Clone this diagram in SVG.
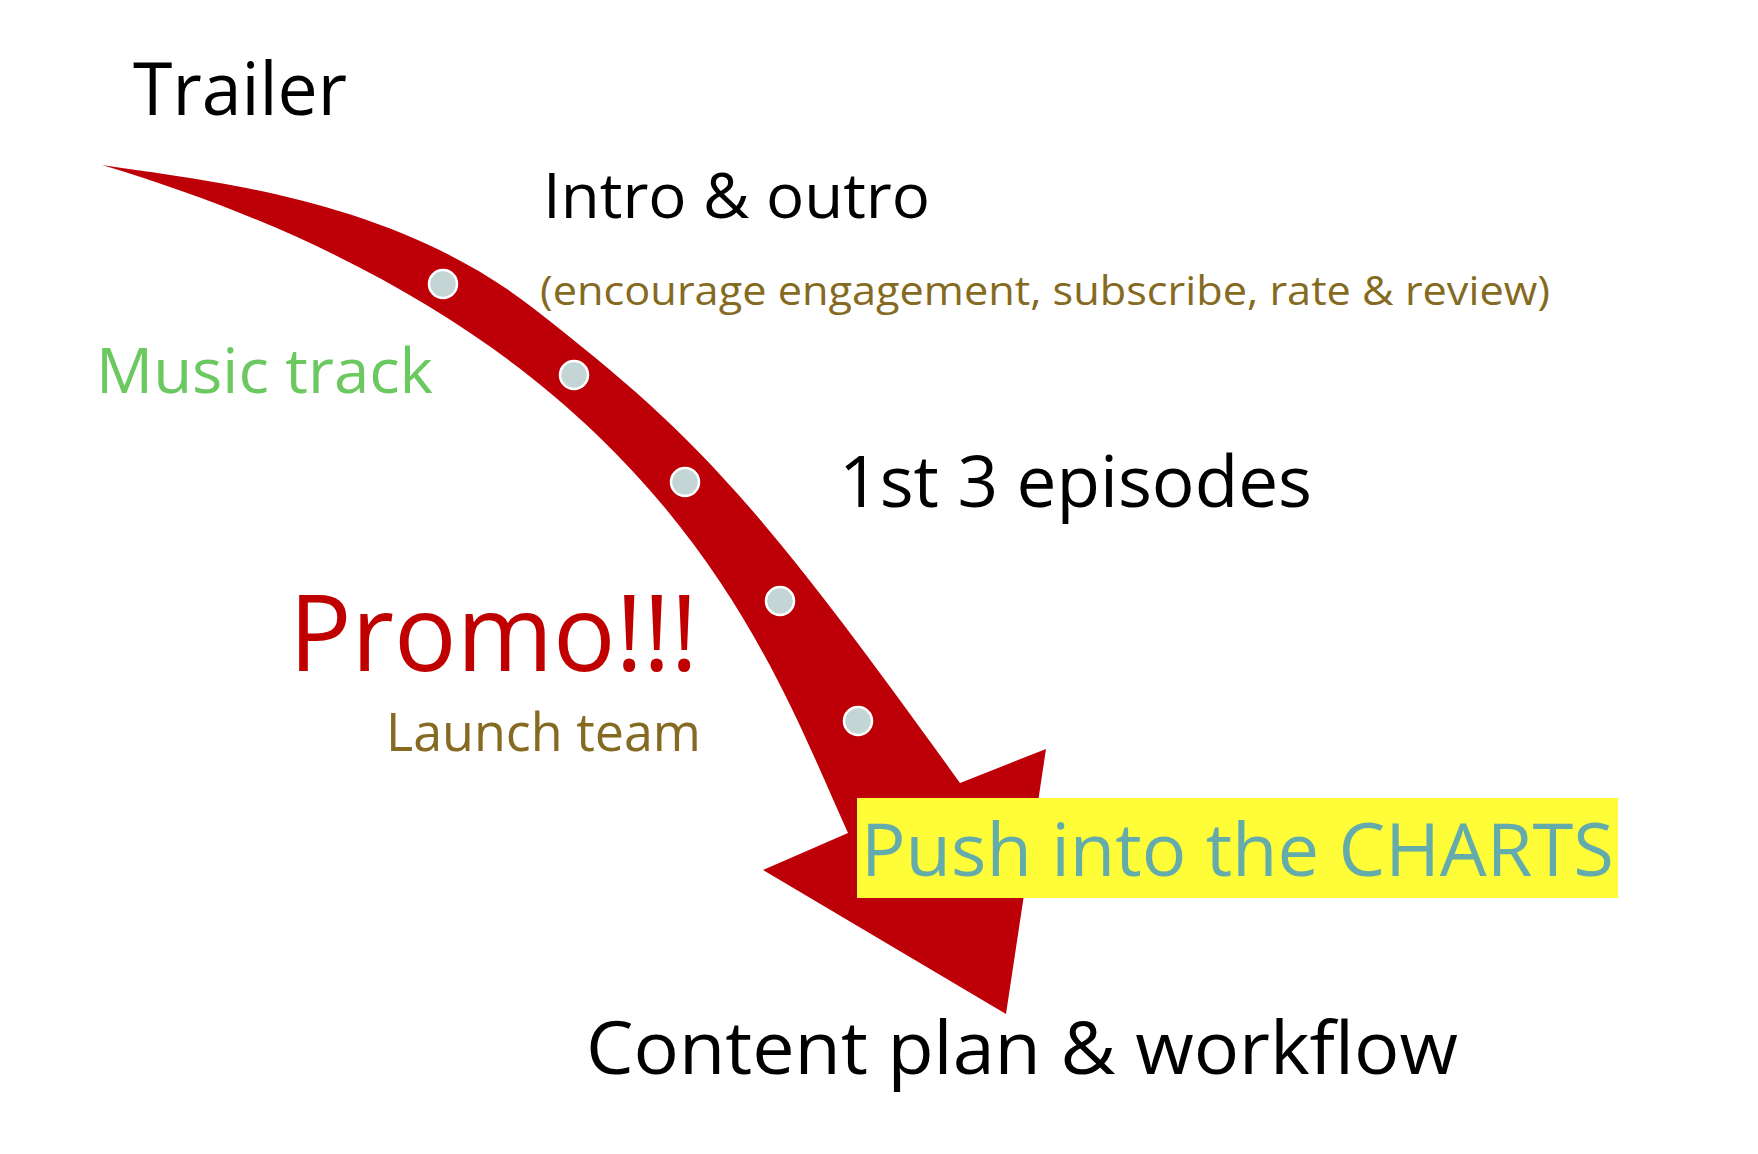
<svg xmlns="http://www.w3.org/2000/svg" width="1758" height="1154" viewBox="0 0 1758 1154">
  <style>
    text { font-family: "Open Sans", "Noto Sans", "Liberation Sans", sans-serif; }
    .blk { fill: #000000; }
    .olive { fill: #856a22; }
    .green { fill: #6cc860; }
    .red { fill: #c00000; }
    .teal { fill: #64abab; }
    .dot { fill: #c4d5d5; stroke: #ffffff; stroke-width: 2.5; }
    .arrow { fill: #bd0007; }
  </style>
  <rect width="1758" height="1154" fill="#ffffff"/>

  <g id="connectors">
    <path class="arrow" d="M102,165
      C212,181.5 393,198.8 533,308
      C690.6,431 751,491.4 960,783
      L1046,749 L1006,1014 L763,870 L848,833
      C768,657 662,333 102,165 Z"/>
    <circle class="dot" cx="443" cy="284" r="14"/>
    <circle class="dot" cx="574" cy="375" r="14"/>
    <circle class="dot" cx="685" cy="482" r="14"/>
    <circle class="dot" cx="780" cy="601" r="14"/>
    <circle class="dot" cx="858" cy="721" r="14"/>
  </g>

  <g id="trailer"><text class="blk" x="133" y="115" font-size="73" textLength="214" lengthAdjust="spacingAndGlyphs">Trailer</text></g>
  <g id="intro-outro"><text class="blk" x="543" y="218" font-size="62" textLength="387" lengthAdjust="spacingAndGlyphs">Intro &amp; outro</text></g>
  <g id="engagement"><text class="olive" x="540" y="305" font-size="41" textLength="1010" lengthAdjust="spacingAndGlyphs">(encourage engagement, subscribe, rate &amp; review)</text></g>
  <g id="music-track"><text class="green" x="96" y="393" font-size="63" textLength="337" lengthAdjust="spacingAndGlyphs">Music track</text></g>
  <g id="episodes"><text class="blk" x="839" y="507" font-size="71" textLength="473" lengthAdjust="spacingAndGlyphs">1st 3 episodes</text></g>
  <g id="promo"><text class="red" x="289" y="671" font-size="106" textLength="409" lengthAdjust="spacingAndGlyphs">Promo!!!</text></g>
  <g id="launch-team"><text class="olive" x="386" y="751" font-size="53" textLength="315" lengthAdjust="spacingAndGlyphs">Launch team</text></g>
  <g id="charts">
    <rect x="857" y="798" width="761" height="100" fill="#fffd37"/>
    <text class="teal" x="861" y="876" font-size="74" textLength="753" lengthAdjust="spacingAndGlyphs">Push into the CHARTS</text>
  </g>
  <g id="content-plan"><text class="blk" x="586" y="1074" font-size="73" textLength="872" lengthAdjust="spacingAndGlyphs">Content plan &amp; workflow</text></g>
</svg>
